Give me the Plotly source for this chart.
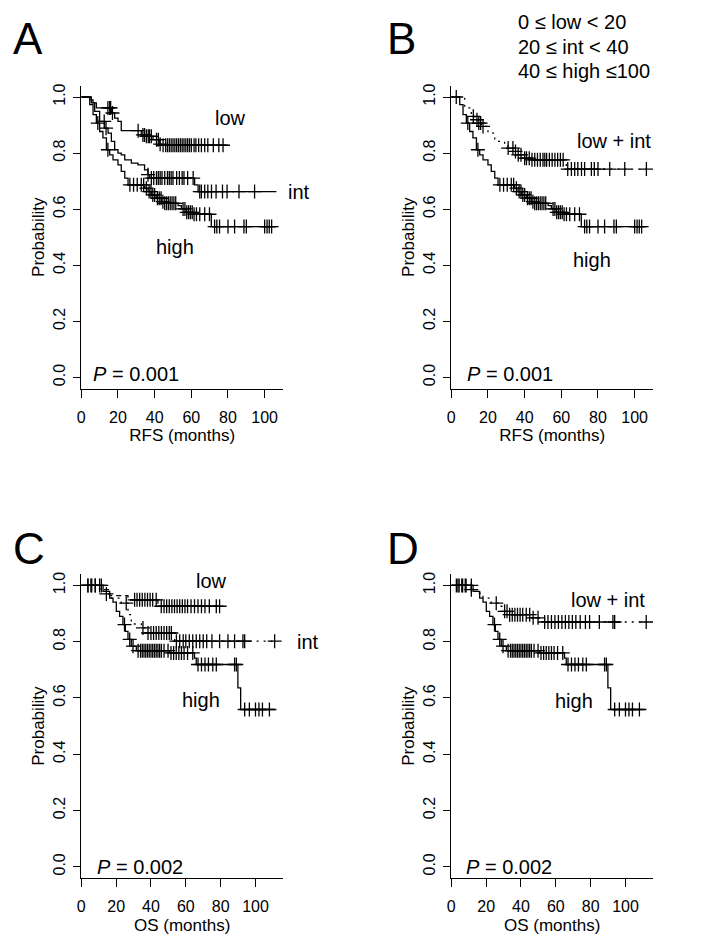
import numpy as np
import plotly.graph_objects as go

# ---------------- data ----------------
# each curve: step times, survival after each step, last entry = end of follow-up
# RFS (panels A and B)
rfs_low_t = [0, 4.6, 6.4, 8.2, 16.4, 18.2, 20.0, 21.8, 32.7, 35.5, 39.1, 42.8, 43.7, 80.0]
rfs_low_s = [1.0, 0.990, 0.979, 0.961, 0.943, 0.925, 0.913, 0.880, 0.865, 0.860, 0.848, 0.832, 0.828, 0.828]
rfs_low_cens = [14.5, 15.5, 16.0, 17.0, 31.0, 33.6, 34.5, 35.5, 36.5, 37.2, 38.2, 41.0, 42.0, 43.0,
                44.6, 46.0, 47.0, 48.0, 49.0, 50.0, 51.0, 52.0, 53.0, 54.0, 55.0, 56.0, 57.0, 58.0,
                59.0, 60.0, 61.5, 62.5, 64.0, 65.5, 67.3, 69.0, 72.0, 75.0, 77.3]

rfs_int_t = [0, 5.5, 7.3, 10.0, 12.7, 14.6, 16.4, 18.2, 20.0, 21.8, 23.7, 27.3, 30.9, 34.5, 36.4, 37.3, 61.8, 63.7, 106.4]
rfs_int_s = [1.0, 0.979, 0.949, 0.913, 0.889, 0.871, 0.842, 0.812, 0.800, 0.794, 0.776, 0.764, 0.758, 0.740, 0.723,
             0.711, 0.687, 0.663, 0.663]
rfs_int_cens = [12.5, 13.5, 36.4, 38.2, 39.5, 41.0, 42.0, 43.0, 44.0, 45.5, 47.0, 48.0, 49.0, 50.0, 52.0,
                53.5, 55.0, 56.0, 58.0, 61.0, 64.6, 65.5, 67.3, 69.0, 71.0, 73.5, 77.0, 79.5, 86.0, 94.5]

rfs_high_t = [0, 4.6, 6.4, 8.2, 10.0, 11.8, 13.7, 15.5, 17.3, 20.0, 21.8, 23.7, 25.5, 34.5, 36.4, 38.2, 40.9,
              43.7, 45.5, 52.8, 54.6, 57.3, 61.0, 70.9, 106.4]
rfs_high_s = [1.0, 0.973, 0.937, 0.907, 0.877, 0.854, 0.812, 0.794, 0.776, 0.758, 0.735, 0.711, 0.687, 0.675,
              0.663, 0.651, 0.639, 0.627, 0.621, 0.613, 0.601, 0.589, 0.582, 0.538, 0.538]
rfs_high_cens = [9.0, 14.5, 26.5, 28.5, 30.5, 32.7, 34.0, 35.5, 37.0, 38.0, 39.0, 40.0, 41.5, 42.5, 43.5,
                 44.5, 45.5, 46.5, 47.5, 48.5, 49.5, 50.5, 51.5, 55.5, 56.5, 57.5, 58.5, 59.5, 60.5, 61.5,
                 62.8, 64.6, 67.3, 69.9, 72.7, 73.9, 75.4, 80.0, 83.6, 88.7, 90.0, 100.0, 101.3, 102.5, 103.8]

rfs_lowint_t = [0, 7.3, 10.9, 12.8, 14.6, 16.4, 20.0, 23.7, 29.1, 30.9, 33.7, 36.4, 40.0, 43.7, 62.7, 106.4]
rfs_lowint_s = [1.0, 0.961, 0.931, 0.919, 0.907, 0.895, 0.871, 0.842, 0.830, 0.818, 0.806, 0.794, 0.782,
                0.776, 0.743, 0.743]
rfs_lowint_cens = [2.7, 12.0, 14.0, 15.0, 16.0, 17.3, 31.0, 33.6, 35.0, 36.5, 38.0, 40.0, 41.0, 42.5, 44.0,
                   45.5, 47.0, 48.5, 50.0, 51.0, 52.0, 53.5, 55.0, 56.5, 58.0, 59.5, 61.0, 63.5, 65.5, 67.3,
                   69.0, 71.0, 72.7, 76.4, 78.0, 80.0, 86.4, 94.6, 106.4]

# OS (panels C and D)
os_low_t = [0, 13.4, 16.3, 26.8, 44.0, 79.4]
os_low_s = [1.0, 0.985, 0.964, 0.949, 0.926, 0.926]
os_low_cens = [3.8, 5.5, 8.0, 10.5, 30.6, 32.0, 33.5, 35.0, 36.5, 38.0, 39.5, 41.0, 43.0, 45.9, 47.5, 49.0,
               50.5, 52.0, 53.5, 55.0, 56.5, 58.0, 59.5, 61.0, 63.0, 65.0, 67.0, 69.0, 71.0, 73.5, 77.5, 79.4]

os_int_t = [0, 10.5, 14.4, 17.3, 22.9, 26.8, 28.7, 34.5, 37.3, 53.6, 111.9]
os_int_s = [1.0, 0.988, 0.970, 0.955, 0.937, 0.896, 0.863, 0.849, 0.831, 0.802, 0.802]
os_int_cens = [14.4, 25.8, 35.4, 38.3, 40.0, 41.5, 43.0, 44.5, 46.0, 47.5, 49.0, 50.5, 51.7, 54.6, 56.5,
               58.5, 60.0, 62.0, 64.0, 66.0, 68.0, 70.0, 72.0, 75.0, 79.4, 84.2, 88.0, 92.8, 93.8, 111.0]

os_high_t = [0, 12.5, 16.3, 18.2, 20.1, 22.0, 23.9, 25.3, 26.8, 28.7, 31.6, 50.7, 65.0, 66.0, 89.9, 91.5, 111.0]
os_high_s = [1.0, 0.979, 0.955, 0.941, 0.908, 0.890, 0.861, 0.837, 0.808, 0.784, 0.768, 0.760, 0.742, 0.719,
             0.636, 0.559, 0.559]
os_high_cens = [3.8, 6.0, 8.0, 11.5, 24.8, 27.8, 29.7, 32.6, 34.0, 35.0, 36.0, 37.0, 38.0, 39.0, 40.0, 41.0,
                42.0, 43.0, 44.0, 45.0, 46.0, 47.5, 49.8, 51.5, 53.0, 54.5, 56.0, 57.5, 59.0, 61.0, 64.0,
                67.0, 69.0, 71.0, 73.0, 75.5, 77.5, 88.0, 89.0, 93.8, 96.5, 100.0, 102.0, 104.0, 108.0]

os_lowint_t = [0, 11.5, 14.4, 18.2, 22.9, 26.8, 30.6, 33.5, 45.9, 53.6, 111.9]
os_lowint_s = [1.0, 0.985, 0.973, 0.955, 0.937, 0.926, 0.908, 0.896, 0.885, 0.870, 0.870]
os_lowint_cens = [2.9, 4.5, 6.5, 8.5, 11.5, 25.8, 30.6, 32.0, 33.5, 35.0, 36.5, 38.0, 39.5, 41.0, 43.0, 45.0,
                  47.0, 49.8, 53.6, 55.5, 57.5, 59.5, 61.5, 63.5, 65.5, 67.5, 69.5, 71.5, 74.0, 77.0, 79.4,
                  85.0, 92.8, 93.8, 111.9]

group_lines = ["0 ≤ low < 20", "20 ≤ int < 40", "40 ≤ high ≤100"]
y_ticks = [0.0, 0.2, 0.4, 0.6, 0.8, 1.0]
x_ticks = [0, 20, 40, 60, 80, 100]

W, H = 704, 937
FONT = "Liberation Sans, Arial, sans-serif"


def px(x):
    return x / W


def py(y):
    return 1 - y / H


def step_value(t, s, c):
    idx = np.searchsorted(np.array(t), np.array(c), side="right") - 1
    return np.array(s)[idx]


fig = go.Figure()

# panel axes: (suffix, x-domain px, y-domain px (top, bottom), x max, x title)
panels = [
    ("", (73.3, 275), (77.8, 380.7), 110, "RFS (months)"),
    ("2", (443.3, 645), (77.8, 380.7), 110, "RFS (months)"),
    ("3", (73.3, 275), (566.2, 870), 115.8, "OS (months)"),
    ("4", (443.3, 645), (566.2, 870), 115.8, "OS (months)"),
]

layout_axes = {}
for suf, (x0, x1), (ytop, ybot), xmax, xtitle in panels:
    layout_axes["xaxis" + suf] = dict(
        domain=[px(x0), px(x1)], range=[0, xmax], anchor="y" + suf, automargin=False,
        tickvals=x_ticks, ticks="outside", ticklen=8, tickwidth=1.3, tickcolor="black",
        showline=True, linecolor="black", linewidth=1.3, showgrid=False, zeroline=False,
        tickfont=dict(family=FONT, size=16, color="black"), ticklabelstandoff=6,
        title=dict(text=xtitle, font=dict(family=FONT, size=17, color="black"), standoff=4),
    )
    layout_axes["yaxis" + suf] = dict(
        domain=[py(ybot), py(ytop)], range=[-0.04, 1.04], anchor="x" + suf, automargin=False,
        tickvals=y_ticks, ticktext=[f"{v:.1f}" for v in y_ticks], tickangle=-90,
        ticks="outside", ticklen=7, tickwidth=1.3, tickcolor="black",
        showline=True, linecolor="black", linewidth=1.3, showgrid=False, zeroline=False,
        tickfont=dict(family=FONT, size=16, color="black"), ticklabelstandoff=2,
        title=dict(text="Probability", font=dict(family=FONT, size=17, color="black"), standoff=1),
    )


def add_curve(t, s, cens, suf, dash):
    xa, ya = "x" + suf, "y" + suf
    fig.add_trace(go.Scatter(
        x=t, y=s, mode="lines", line=dict(color="black", width=1.3, dash=dash, shape="hv"),
        xaxis=xa, yaxis=ya, showlegend=False, hoverinfo="skip"))
    fig.add_trace(go.Scatter(
        x=cens, y=step_value(t, s, cens), mode="markers",
        marker=dict(symbol="cross-thin", size=10, line=dict(color="black", width=1.3)),
        xaxis=xa, yaxis=ya, showlegend=False, hoverinfo="skip"))


# A
add_curve(rfs_low_t, rfs_low_s, rfs_low_cens, "", "solid")
add_curve(rfs_int_t, rfs_int_s, rfs_int_cens, "", "solid")
add_curve(rfs_high_t, rfs_high_s, rfs_high_cens, "", "solid")
# B
add_curve(rfs_lowint_t, rfs_lowint_s, rfs_lowint_cens, "2", "2px,5px")
add_curve(rfs_high_t, rfs_high_s, rfs_high_cens, "2", "solid")
# C
add_curve(os_low_t, os_low_s, os_low_cens, "3", "5px,4px")
add_curve(os_int_t, os_int_s, os_int_cens, "3", "2px,5px")
add_curve(os_high_t, os_high_s, os_high_cens, "3", "solid")
# D
add_curve(os_lowint_t, os_lowint_s, os_lowint_cens, "4", "2px,5px")
add_curve(os_high_t, os_high_s, os_high_cens, "4", "solid")

annotations = []


def label(text, x, y, suf, size=20, xanchor="center", xref=None):
    annotations.append(dict(text=text, x=x, y=y, xref=xref or ("x" + suf), yref="y" + suf, showarrow=False,
                            xanchor=xanchor, yanchor="middle",
                            font=dict(family=FONT, size=size, color="black")))


# curve labels (data coordinates; "int" sits right of the axis end, so paper x)
label("low", 81.5, 0.925, "")
label("int", px(291), 0.66, "", xref="paper")
label("high", 51, 0.465, "")
label("low + int", 89, 0.842, "2")
label("high", 77, 0.42, "2")
label("low", 74.5, 1.015, "3")
label("int", px(300), 0.80, "3", xref="paper")
label("high", 68.5, 0.594, "3")
label("low + int", 90, 0.95, "4")
label("high", 70.5, 0.59, "4")
# P values
for suf, p, px_t, py_s in [("", "0.001", 5.5, 0.014), ("2", "0.001", 7.3, 0.014),
                           ("3", "0.002", 7.6, 0.0), ("4", "0.002", 7.4, 0.0)]:
    label(f"<i>P</i> = {p}", px_t, py_s, suf, xanchor="left")

# panel letters
for letter, x, y in [("A", 3, 30), ("B", 377, 30), ("C", 3, 540), ("D", 377, 540)]:
    annotations.append(dict(text=letter, x=px(x), y=py(y), xref="paper", yref="paper", showarrow=False,
                            xanchor="left", yanchor="middle",
                            font=dict(family=FONT, size=44, color="black")))

# group definition, one line each
for i, line in enumerate(group_lines):
    annotations.append(dict(text=line, x=px(508), y=py(14 + 24.5 * i), xref="paper", yref="paper",
                            showarrow=False, xanchor="left", yanchor="middle",
                            font=dict(family=FONT, size=20, color="black")))

fig.update_layout(
    width=W, height=H,
    margin=dict(l=0, r=0, t=0, b=0),
    paper_bgcolor="white", plot_bgcolor="white",
    annotations=annotations,
    **layout_axes,
)

fig.write_html("out.html")
